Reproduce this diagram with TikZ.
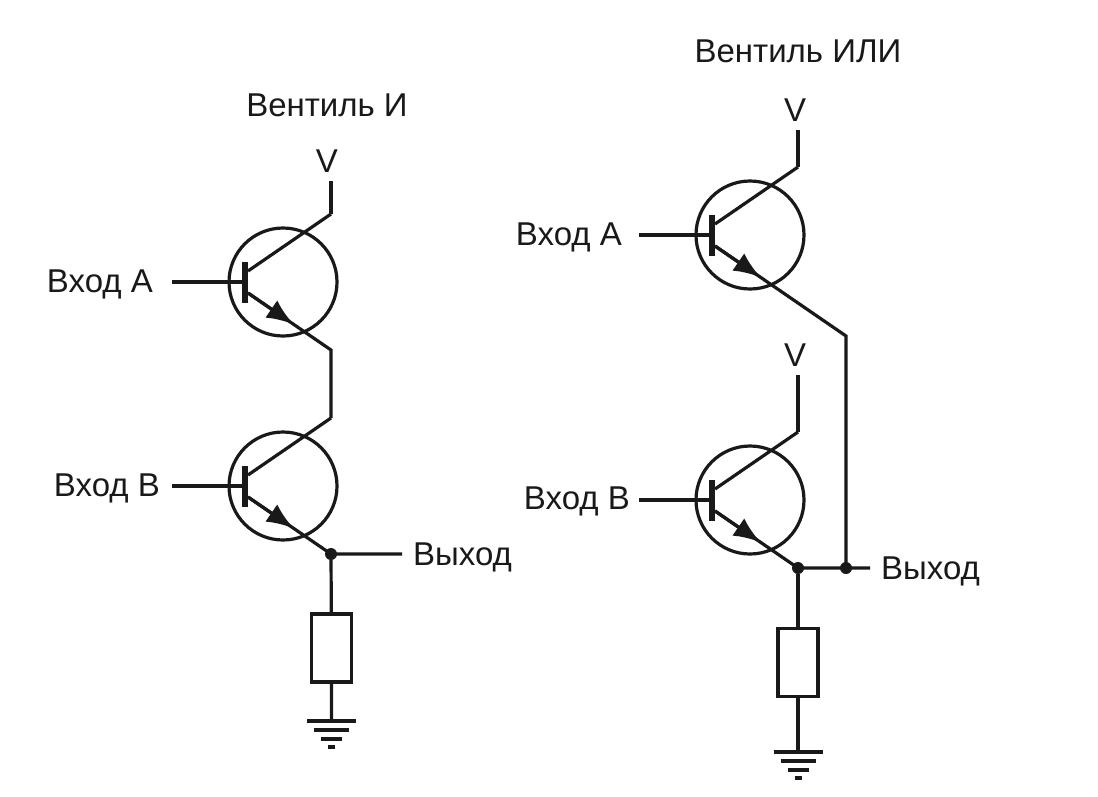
\documentclass[tikz,border=0pt]{standalone}
\usepackage{fontspec}
\setmainfont{Liberation Sans}
\usetikzlibrary{positioning, calc, arrows.meta}

\begin{document}
\begin{tikzpicture}[x=1pt, y=-1pt]
    \tikzset{
        wire/.style = {line width=3.2pt, line join=miter, draw=black!90},
        arrow/.style = {wire, -{Latex[length=27pt, width=21pt]}},
        transistor/.style = {circle, draw=black!90, line width=3.2pt, minimum size=108pt, inner sep=0pt},
        base/.style = {rectangle, fill=black!90, minimum width=6pt, minimum height=41pt, inner sep=0pt},
        resistor/.style = {rectangle, draw=black!90, line width=3.2pt, minimum width=40pt, minimum height=68pt, inner sep=0pt, fill=white},
        joint/.style = {circle, fill=black!90, minimum size=12pt, inner sep=0pt},
        label/.style = {inner sep=0pt, font=\fontsize{33}{38}\selectfont, text=black!90}
    }
    \useasboundingbox (0,0) rectangle (1098,796);

    % transistors
    \foreach \name/\xc/\yc in {la/283/282, lb/283/486, ra/750/235, rb/750/500} {
        \node (\name) [transistor] at (\xc,\yc) {};
        \node (\name-base) [base] at ([xshift=-38pt]\name.center) {};
        \coordinate (\name-c) at ([shift={(-35,-11)}]\name.center);
        \coordinate (\name-e) at ([shift={(-35,11)}]\name.center);
        \coordinate (\name-ck) at ([shift={(48,-68)}]\name.center);
        \coordinate (\name-ek) at ([shift={(48,68)}]\name.center);
        \coordinate (\name-in) at ([xshift=-111pt]\name.center);
        \draw [wire] (\name-in) -- (\name-base);
        \draw [wire] (\name-c) -- (\name-ck);
        \draw [arrow] (\name-e) -- ($(\name-e)!0.55!(\name-ek)$);
    }

    % left gate
    \node (titleL) [label] at (327,105) {Вентиль И};
    \coordinate (vL) at (331,181);
    \node (vtextL) [label, above=8pt of vL, xshift=-4pt] {V};
    \node (inLA) [label, left=19pt of la-in, yshift=-2pt] {Вход А};
    \node (inLB) [label, left=12pt of lb-in, yshift=-2pt] {Вход В};
    \node (dotL) [joint] at (lb-ek) {};
    \coordinate (outL) at (402,554);
    \node (outtextL) [label, right=11pt of outL, yshift=-3pt] {Выход};
    \node (resL) [resistor] at (331.5,648) {};
    \coordinate (gndL) at (331.5,721);

    \draw [wire] (vL) -- (la-ck);
    \draw [wire] (la-e) -- (la-ek) -- (lb-ck);
    \draw [wire] (lb-e) -- (dotL.center) -- (outL);
    \draw [wire] (dotL) -- (resL) -- (gndL);

    % right gate
    \node (titleR) [label] at (798,51) {Вентиль ИЛИ};
    \coordinate (vRA) at (798,130);
    \node (vtextRA) [label, above=8pt of vRA, xshift=-3pt] {V};
    \coordinate (vRB) at (798,375);
    \node (vtextRB) [label, above=8pt of vRB, xshift=-3pt] {V};
    \node (inRA) [label, left=17pt of ra-in, yshift=-2pt] {Вход А};
    \node (inRB) [label, left=9pt of rb-in, yshift=-1pt] {Вход В};
    \node (dotRA) [joint] at (rb-ek) {};
    \node (dotRB) [joint] at (846,568) {};
    \coordinate (bendR) at (846,336);
    \coordinate (outR) at (870,568);
    \node (outtextR) [label, right=11pt of outR, yshift=-3pt] {Выход};
    \node (resR) [resistor] at (798,662.5) {};
    \coordinate (gndR) at (798,752);

    \draw [wire] (vRA) -- (ra-ck);
    \draw [wire] (vRB) -- (rb-ck);
    \draw [wire] (ra-e) -- (bendR) -- (dotRB.center);
    \draw [wire] (rb-e) -- (dotRA.center) -- (outR);
    \draw [wire] (dotRA) -- (resR) -- (gndR);

    % grounds
    \foreach \gnd in {gndL, gndR} {
        \foreach \dy/\hw in {0/24.5, 9/17.5, 18/10.5, 26/3.5} {
            \draw [wire] ([shift={(-\hw,\dy)}]\gnd) -- ([shift={(\hw,\dy)}]\gnd);
        }
    }
\end{tikzpicture}
\end{document}
